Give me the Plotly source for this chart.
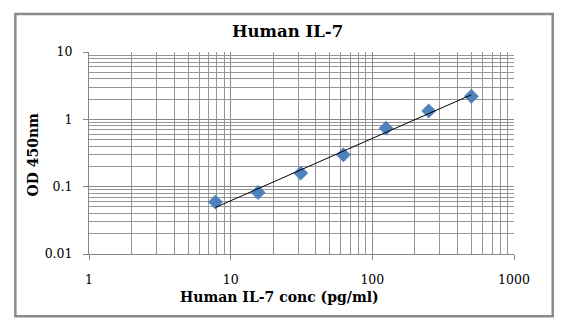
import numpy as np
import plotly.graph_objects as go

# Data
conc = [7.8125, 15.625, 31.25, 62.5, 125, 250, 500]
od450 = [0.059, 0.082, 0.159, 0.297, 0.739, 1.334, 2.20]

x_ticks = [1, 10, 100, 1000]
x_ticktext = ["1", "10", "100", "1000"]
y_ticks = [0.01, 0.1, 1, 10]
y_ticktext = ["0.01", "0.1", "1", "10"]

title_text = "Human IL-7"
x_title = "Human IL-7 conc (pg/ml)"
y_title = "OD 450nm"

# Power trendline (least squares in log-log space)
lx = np.log10(conc)
ly = np.log10(od450)
b, a = np.polyfit(lx, ly, 1)
fit_x = [conc[0], conc[-1]]
fit_y = [10 ** (a + b * np.log10(v)) for v in fit_x]

SERIF = "DejaVu Serif"
GRID = "#969696"

fig = go.Figure()
fig.add_trace(go.Scatter(
    x=conc, y=od450, mode="markers",
    marker=dict(symbol="diamond", size=11, color="#4F81BD",
                line=dict(width=0.5, color="#4A7AB5")),
    showlegend=False))
fig.add_trace(go.Scatter(
    x=fit_x, y=fit_y, mode="lines",
    line=dict(color="black", width=1), showlegend=False))

L, R, T, B = 89.3, 514.0, 52.0, 254.3
W, H = 570, 334
pw, ph = R - L, B - T

def px(x):
    return (x - L) / pw

def py(y):
    return (B - y) / ph

fig.update_layout(
    width=W, height=H,
    margin=dict(l=L, r=W - R, t=T, b=H - B, pad=0),
    paper_bgcolor="white", plot_bgcolor="white",
    showlegend=False,
    xaxis=dict(
        type="log", range=[0, 3],
        tickvals=x_ticks, ticktext=x_ticktext,
        showgrid=True, gridcolor="#8a8a8a", gridwidth=1,
        minor=dict(showgrid=True, gridcolor=GRID, gridwidth=1,
                   tickvals=[m * 10 ** d for d in range(0, 3) for m in range(2, 10)]),
        ticks="outside", ticklen=5, tickcolor="#868686",
        showline=True, linecolor="#868686", linewidth=1,
        tickfont=dict(family=SERIF, size=12.5, color="black"),
        ticklabelstandoff=9,
        zeroline=False, mirror=False,
    ),
    yaxis=dict(
        type="log", range=[-2, 1],
        tickvals=y_ticks, ticktext=y_ticktext,
        showgrid=True, gridcolor="#8a8a8a", gridwidth=1,
        minor=dict(showgrid=True, gridcolor=GRID, gridwidth=1,
                   tickvals=[m * 10 ** d for d in range(-2, 1) for m in range(2, 10)]),
        ticks="outside", ticklen=5, tickcolor="#868686",
        showline=True, linecolor="#868686", linewidth=1,
        tickfont=dict(family=SERIF, size=12.5, color="black"),
        ticklabelstandoff=8,
        zeroline=False,
    ),
    shapes=[dict(
        type="rect", xref="paper", yref="paper",
        x0=px(15.7), x1=px(552.7), y0=py(316.7), y1=py(14),
        line=dict(color="#8a8a8a", width=2.5), fillcolor="rgba(0,0,0,0)",
        layer="below")],
    annotations=[
        dict(text="<b>%s</b>" % title_text, xref="paper", yref="paper",
             x=px(288), y=py(31), xanchor="center", yanchor="middle",
             showarrow=False, font=dict(family=SERIF, size=16.5, color="black")),
        dict(text="<b>%s</b>" % x_title, xref="paper", yref="paper",
             x=px(280), y=py(297), xanchor="center", yanchor="middle",
             showarrow=False, font=dict(family=SERIF, size=14, color="black")),
        dict(text="<b>%s</b>" % y_title, xref="paper", yref="paper",
             x=px(33), y=py(155), xanchor="center", yanchor="middle",
             textangle=-90,
             showarrow=False, font=dict(family=SERIF, size=14, color="black")),
    ],
)

fig.write_html("out.html")
